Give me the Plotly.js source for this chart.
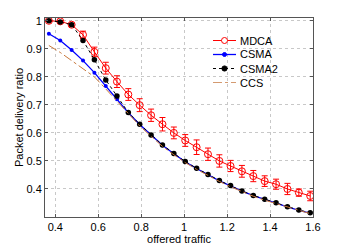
<!DOCTYPE html>
<html>
<head>
<meta charset="utf-8">
<script src="https://cdn.plot.ly/plotly-3.0.1.min.js"></script>
<style>html,body{margin:0;padding:0;background:#fff;}#chart{width:346px;height:245px;}</style>
</head>
<body>
<div id="chart"></div>
<script>
var traffic = [0.370,0.423,0.476,0.529,0.582,0.635,0.687,0.740,0.793,0.846,0.899,0.952,1.005,1.058,1.111,1.164,1.216,1.269,1.322,1.375,1.428,1.481,1.534,1.587];
var mdca = [1.000,0.998,0.986,0.950,0.889,0.831,0.783,0.737,0.699,0.663,0.631,0.600,0.573,0.549,0.524,0.500,0.482,0.463,0.446,0.428,0.417,0.400,0.387,0.375];
var mdcaErr = [0.002,0.003,0.005,0.013,0.017,0.021,0.021,0.021,0.023,0.022,0.024,0.021,0.021,0.026,0.022,0.022,0.020,0.021,0.020,0.019,0.018,0.020,0.013,0.017];
var csma = [0.954,0.930,0.896,0.858,0.815,0.767,0.720,0.672,0.630,0.592,0.556,0.526,0.497,0.473,0.451,0.429,0.411,0.392,0.376,0.362,0.350,0.336,0.324,0.314];
var csma2 = [1.000,0.996,0.986,0.930,0.861,0.789,0.732,0.673,0.631,0.593,0.557,0.527,0.498,0.474,0.452,0.430,0.412,0.393,0.377,0.363,0.351,0.337,0.325,0.315];
var ccs = [0.912,0.887,0.858,0.828,0.800,0.757,0.713,0.667,0.625,0.588,0.552,0.522,0.494,0.470,0.448,0.427,0.408,0.390,0.374,0.360,0.348,0.334,0.322,0.312];
var seriesNames = ['MDCA', 'CSMA', 'CSMA2', 'CCS'];

var red = '#ff0000', blue = '#0000ff', blk = '#000000', brown = '#c8783c';

var traces = [
  {x: traffic, y: mdca, name: seriesNames[0], mode: 'lines+markers',
   line: {color: red, width: 1},
   marker: {symbol: 'circle-open', size: 7, color: red, line: {width: 1}},
   error_y: {type: 'data', array: mdcaErr, visible: true, color: red, thickness: 1, width: 3}},
  {x: traffic, y: csma, name: seriesNames[1], mode: 'lines+markers',
   line: {color: blue, width: 1.3},
   marker: {symbol: 'circle', size: 4, color: blue}},
  {x: traffic, y: csma2, name: seriesNames[2], mode: 'lines+markers',
   line: {color: blk, width: 1, dash: 'dot'},
   marker: {symbol: 'circle', size: 5.5, color: blk}},
  {x: traffic, y: ccs, name: seriesNames[3], mode: 'lines',
   line: {color: brown, width: 1, dash: 'dashdot'}}
];

// manual legend (pixel-tight spacing like the original)
var W = 346, H = 245, mL = 45, mR = 33, mT = 18, mB = 28;
var pw = W - mL - mR, ph = H - mT - mB;
function px2x(p) { return (p - mL) / pw; }
function py2y(p) { return (H - mB - p) / ph; }
var legX0 = px2x(213), legX1 = px2x(236), legXm = px2x(224.5), legTx = px2x(238);
var legRows = [40.5, 54.5, 68.5, 82.5];
var legStyle = [
  {color: red, dash: 'solid', width: 1, mk: 'open', size: 3},
  {color: blue, dash: 'solid', width: 1.3, mk: 'fill', size: 2},
  {color: blk, dash: 'dot', width: 1, mk: 'fill', size: 2.6},
  {color: '#d49a70', dash: 'dashdot', width: 1, mk: null}
];
var shapes = [], annotations = [];
legRows.forEach(function (r, i) {
  var yy = py2y(r), s = legStyle[i];
  shapes.push({type: 'line', xref: 'paper', yref: 'paper', x0: legX0, x1: legX1, y0: yy, y1: yy,
    line: {color: s.color, width: s.width, dash: s.dash}});
  if (s.mk) {
    shapes.push({type: 'circle', xref: 'paper', yref: 'paper', xsizemode: 'pixel', ysizemode: 'pixel',
      xanchor: legXm, yanchor: yy, x0: -s.size, x1: s.size, y0: -s.size, y1: s.size,
      line: {color: s.color, width: 1}, fillcolor: s.mk === 'open' ? 'rgba(255,255,255,1)' : s.color});
  }
  annotations.push({xref: 'paper', yref: 'paper', x: legTx, y: yy, xanchor: 'left', yanchor: 'middle',
    text: seriesNames[i], showarrow: false, font: {size: 11, color: '#000'}});
});

var gridc = '#c8c8c8';
var layout = {
  width: W, height: H,
  margin: {l: mL, r: mR, t: mT, b: mB},
  paper_bgcolor: '#ffffff', plot_bgcolor: '#ffffff',
  font: {family: 'Liberation Sans, Arial, sans-serif', size: 11, color: '#000'},
  showlegend: false,
  shapes: shapes, annotations: annotations,
  xaxis: {range: [0.352, 1.6], tickvals: [0.4,0.6,0.8,1.0,1.2,1.4,1.6], ticktext: ['0.4','0.6','0.8','1','1.2','1.4','1.6'],
    showgrid: true, gridcolor: gridc, griddash: 'dot', gridwidth: 1,
    showline: true, linecolor: '#555', linewidth: 1, mirror: 'ticks', ticks: 'inside', ticklen: 3, tickcolor: '#555',
    zeroline: false, title: {text: 'offered traffic', font: {size: 11}, standoff: 1}},
  yaxis: {range: [0.3, 1.01], tickvals: [0.4,0.5,0.6,0.7,0.8,0.9,1.0], ticktext: ['0.4','0.5','0.6','0.7','0.8','0.9','1'],
    showgrid: true, gridcolor: gridc, griddash: 'dot', gridwidth: 1,
    showline: true, linecolor: '#555', linewidth: 1, mirror: 'ticks', ticks: 'inside', ticklen: 3, tickcolor: '#555',
    zeroline: false, title: {text: 'Packet delivery ratio', font: {size: 11}, standoff: 0}}
};
Plotly.newPlot('chart', traces, layout, {displayModeBar: false, staticPlot: true});
</script>
</body>
</html>
